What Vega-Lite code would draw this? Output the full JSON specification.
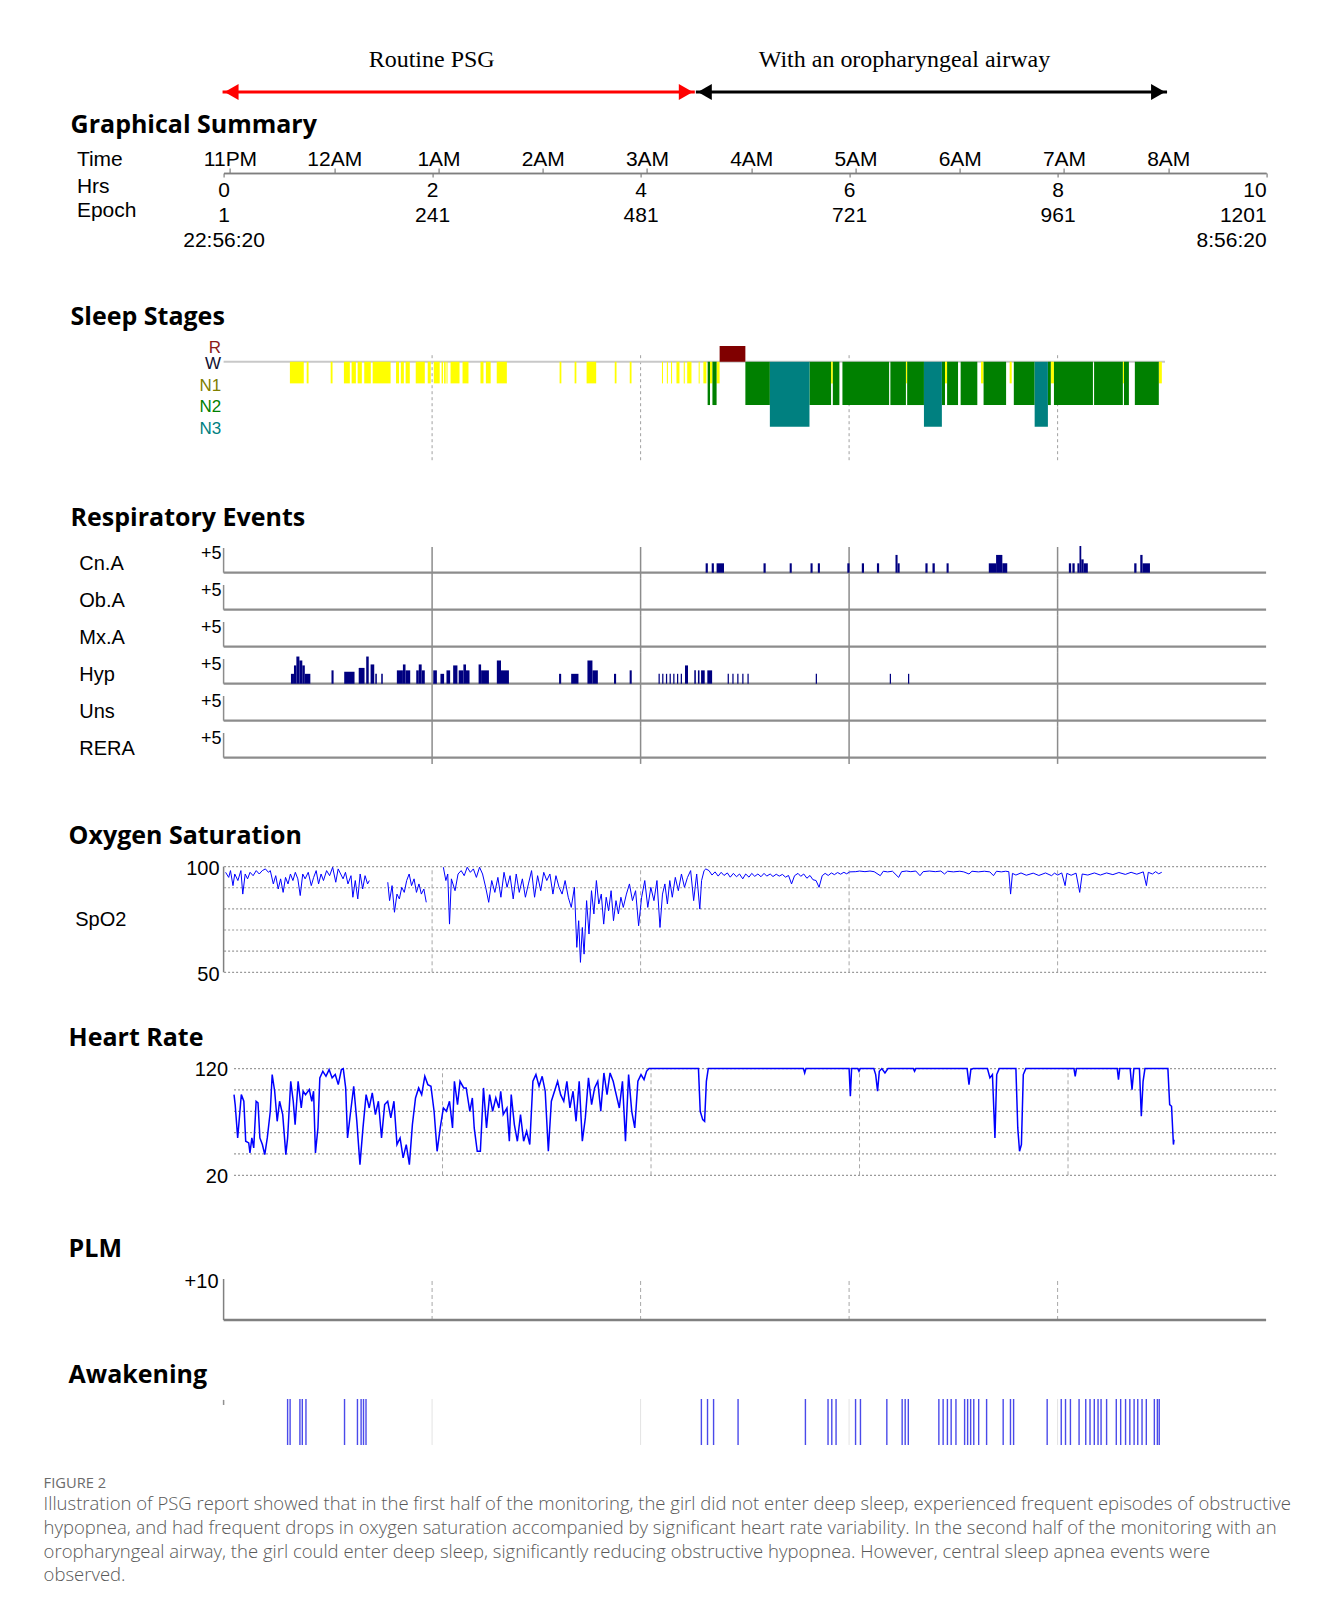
{
"$schema":"https://vega.github.io/schema/vega-lite/v6.json",
"padding":{"left":43.6,"top":36,"right":20,"bottom":20},
"bounds":"flush",
"spacing":0,
"resolve":{"scale":{"color":"independent"}},
"config":{
 "aria":false,
 "view":{"stroke":null},
 "font":"Liberation Sans",
 "axis":{"labelFont":"Liberation Sans","titleFont":"Liberation Sans","labelColor":"#000000","titleColor":"#000000","titleFontWeight":"normal","grid":false},
 "title":{"font":"Open Sans","fontWeight":"bold","fontSize":25,"anchor":"start","frame":"group","offset":0,"baseline":"alphabetic","color":"#000000"}
},
"title":{
 "text":"FIGURE 2",
 "subtitle":["Illustration of PSG report showed that in the first half of the monitoring, the girl did not enter deep sleep, experienced frequent episodes of obstructive","hypopnea, and had frequent drops in oxygen saturation accompanied by significant heart rate variability. In the second half of the monitoring with an","oropharyngeal airway, the girl could enter deep sleep, significantly reducing obstructive hypopnea. However, central sleep apnea events were","observed."],
 "orient":"bottom","anchor":"start","frame":"group","dx":-180,"offset":30,"baseline":"top",
 "font":"Open Sans","fontSize":14.7,"fontWeight":"normal","color":"#6b6b6b",
 "subtitleFont":"Open Sans","subtitleFontSize":18.5,"subtitleFontWeight":300,"subtitleColor":"#595959","subtitleLineHeight":23.7,"subtitlePadding":5
},
"datasets":{
 "phases":[{"label":"Routine PSG","start":-0.01,"end":4.52},{"label":"With an oropharyngeal airway","start":4.53,"end":9.05}],
 "grid":[{"h":2},{"h":4},{"h":6},{"h":8}],
 "one":[{"k":1}],
 "recording":[{"start":0,"end":9.03}],
 "stages":[{"stage":"R","level":-0.72},{"stage":"N1","level":1},{"stage":"N2","level":2},{"stage":"N3","level":3}],
 "sleep":[
  {"stage":"N1","start":0.636,"end":0.769},{"stage":"N1","start":0.797,"end":0.815},{"stage":"N1","start":1.027,"end":1.045},{"stage":"N1","start":1.154,"end":1.211},{"stage":"N1","start":1.228,"end":1.269},{"stage":"N1","start":1.286,"end":1.326},{"stage":"N1","start":1.349,"end":1.412},{"stage":"N1","start":1.43,"end":1.602},{"stage":"N1","start":1.654,"end":1.683},{"stage":"N1","start":1.7,"end":1.729},{"stage":"N1","start":1.746,"end":1.786},{"stage":"N1","start":1.843,"end":1.93},{"stage":"N1","start":1.958,"end":1.987},{"stage":"N1","start":2.016,"end":2.073},{"stage":"N1","start":2.091,"end":2.105},{"stage":"N1","start":2.115,"end":2.13},{"stage":"N1","start":2.138,"end":2.148},{"stage":"N1","start":2.177,"end":2.263},{"stage":"N1","start":2.292,"end":2.349},{"stage":"N1","start":2.464,"end":2.493},{"stage":"N1","start":2.516,"end":2.562},{"stage":"N1","start":2.62,"end":2.717},{"stage":"N1","start":3.223,"end":3.24},{"stage":"N1","start":3.367,"end":3.384},{"stage":"N1","start":3.482,"end":3.574},{"stage":"N1","start":3.752,"end":3.769},{"stage":"N1","start":3.896,"end":3.913},{"stage":"N1","start":4.205,"end":4.215},{"stage":"N1","start":4.252,"end":4.262},{"stage":"N1","start":4.292,"end":4.302},{"stage":"N1","start":4.344,"end":4.373},{"stage":"N1","start":4.414,"end":4.424},{"stage":"N1","start":4.447,"end":4.488},{"stage":"N1","start":4.557,"end":4.567},{"stage":"N1","start":4.602,"end":4.631},{"stage":"N1","start":4.666,"end":4.689},{"stage":"N1","start":4.729,"end":4.758},{"stage":"N1","start":5.827,"end":5.844},{"stage":"N1","start":6.545,"end":6.557},{"stage":"N1","start":6.92,"end":6.94},{"stage":"N1","start":7.265,"end":7.29},{"stage":"N1","start":7.54,"end":7.56},{"stage":"N1","start":7.935,"end":7.965},{"stage":"N1","start":8.626,"end":8.637},{"stage":"N1","start":8.971,"end":9.0},
  {"stage":"N2","start":4.643,"end":4.666},{"stage":"N2","start":4.689,"end":4.729},{"stage":"N2","start":5.005,"end":5.24},{"stage":"N2","start":5.62,"end":5.827},{"stage":"N2","start":5.844,"end":5.907},{"stage":"N2","start":5.936,"end":6.384},{"stage":"N2","start":6.396,"end":6.545},{"stage":"N2","start":6.557,"end":6.718},{"stage":"N2","start":6.89,"end":6.92},{"stage":"N2","start":6.94,"end":7.045},{"stage":"N2","start":7.07,"end":7.23},{"stage":"N2","start":7.29,"end":7.506},{"stage":"N2","start":7.58,"end":7.78},{"stage":"N2","start":7.907,"end":7.935},{"stage":"N2","start":7.965,"end":8.339},{"stage":"N2","start":8.35,"end":8.626},{"stage":"N2","start":8.637,"end":8.684},{"stage":"N2","start":8.741,"end":8.971},
  {"stage":"N3","start":5.24,"end":5.62},{"stage":"N3","start":6.718,"end":6.89},{"stage":"N3","start":7.78,"end":7.907},
  {"stage":"R","start":4.758,"end":5.005}
 ],
 "resp":[
  {"type":"Cn.A","start":4.624,"end":4.645,"n":1.9},{"type":"Cn.A","start":4.682,"end":4.703,"n":1.9},{"type":"Cn.A","start":4.729,"end":4.8,"n":1.9},{"type":"Cn.A","start":5.179,"end":5.2,"n":1.9},{"type":"Cn.A","start":5.43,"end":5.45,"n":1.9},{"type":"Cn.A","start":5.63,"end":5.65,"n":1.9},{"type":"Cn.A","start":5.7,"end":5.72,"n":1.9},{"type":"Cn.A","start":5.983,"end":6.004,"n":1.9},{"type":"Cn.A","start":6.122,"end":6.143,"n":1.9},{"type":"Cn.A","start":6.267,"end":6.288,"n":1.9},{"type":"Cn.A","start":6.445,"end":6.465,"n":3.6},{"type":"Cn.A","start":6.465,"end":6.485,"n":1.9},{"type":"Cn.A","start":6.732,"end":6.753,"n":1.9},{"type":"Cn.A","start":6.8,"end":6.822,"n":1.9},{"type":"Cn.A","start":6.935,"end":6.955,"n":1.9},{"type":"Cn.A","start":7.34,"end":7.41,"n":1.9},{"type":"Cn.A","start":7.41,"end":7.47,"n":3.6},{"type":"Cn.A","start":7.47,"end":7.517,"n":1.9},{"type":"Cn.A","start":8.108,"end":8.13,"n":1.9},{"type":"Cn.A","start":8.142,"end":8.164,"n":1.9},{"type":"Cn.A","start":8.19,"end":8.21,"n":1.9},{"type":"Cn.A","start":8.21,"end":8.227,"n":5.4},{"type":"Cn.A","start":8.227,"end":8.25,"n":2.7},{"type":"Cn.A","start":8.25,"end":8.29,"n":1.9},{"type":"Cn.A","start":8.735,"end":8.757,"n":1.9},{"type":"Cn.A","start":8.793,"end":8.815,"n":3.6},{"type":"Cn.A","start":8.815,"end":8.886,"n":1.9},
  {"type":"Hyp","start":0.646,"end":0.675,"n":2.0},{"type":"Hyp","start":0.675,"end":0.698,"n":3.7},{"type":"Hyp","start":0.698,"end":0.727,"n":5.5},{"type":"Hyp","start":0.727,"end":0.755,"n":4.7},{"type":"Hyp","start":0.755,"end":0.779,"n":3.7},{"type":"Hyp","start":0.779,"end":0.832,"n":2.0},{"type":"Hyp","start":1.035,"end":1.055,"n":2.7},{"type":"Hyp","start":1.157,"end":1.256,"n":2.4},{"type":"Hyp","start":1.296,"end":1.352,"n":3.2},{"type":"Hyp","start":1.368,"end":1.392,"n":5.5},{"type":"Hyp","start":1.41,"end":1.445,"n":3.9},{"type":"Hyp","start":1.455,"end":1.47,"n":2.0},{"type":"Hyp","start":1.512,"end":1.527,"n":2.0},{"type":"Hyp","start":1.662,"end":1.72,"n":2.7},{"type":"Hyp","start":1.72,"end":1.745,"n":3.9},{"type":"Hyp","start":1.745,"end":1.79,"n":2.7},{"type":"Hyp","start":1.848,"end":1.872,"n":2.7},{"type":"Hyp","start":1.872,"end":1.9,"n":3.9},{"type":"Hyp","start":1.9,"end":1.93,"n":2.7},{"type":"Hyp","start":2.011,"end":2.046,"n":2.7},{"type":"Hyp","start":2.08,"end":2.115,"n":2.0},{"type":"Hyp","start":2.138,"end":2.173,"n":2.7},{"type":"Hyp","start":2.202,"end":2.243,"n":3.7},{"type":"Hyp","start":2.255,"end":2.3,"n":2.7},{"type":"Hyp","start":2.3,"end":2.325,"n":3.9},{"type":"Hyp","start":2.325,"end":2.359,"n":2.7},{"type":"Hyp","start":2.446,"end":2.47,"n":3.9},{"type":"Hyp","start":2.47,"end":2.545,"n":2.7},{"type":"Hyp","start":2.621,"end":2.661,"n":4.7},{"type":"Hyp","start":2.661,"end":2.737,"n":2.7},{"type":"Hyp","start":3.218,"end":3.238,"n":2.0},{"type":"Hyp","start":3.334,"end":3.404,"n":2.0},{"type":"Hyp","start":3.49,"end":3.538,"n":4.7},{"type":"Hyp","start":3.538,"end":3.59,"n":2.7},{"type":"Hyp","start":3.745,"end":3.765,"n":2.0},{"type":"Hyp","start":3.895,"end":3.915,"n":2.7},{"type":"Hyp","start":4.172,"end":4.184,"n":2.0},{"type":"Hyp","start":4.207,"end":4.219,"n":2.0},{"type":"Hyp","start":4.243,"end":4.255,"n":2.0},{"type":"Hyp","start":4.278,"end":4.29,"n":2.0},{"type":"Hyp","start":4.313,"end":4.325,"n":2.0},{"type":"Hyp","start":4.349,"end":4.361,"n":2.0},{"type":"Hyp","start":4.385,"end":4.397,"n":2.0},{"type":"Hyp","start":4.426,"end":4.455,"n":3.7},{"type":"Hyp","start":4.515,"end":4.53,"n":2.7},{"type":"Hyp","start":4.55,"end":4.565,"n":2.7},{"type":"Hyp","start":4.58,"end":4.615,"n":2.7},{"type":"Hyp","start":4.64,"end":4.686,"n":2.7},{"type":"Hyp","start":4.835,"end":4.847,"n":2.0},{"type":"Hyp","start":4.88,"end":4.892,"n":2.0},{"type":"Hyp","start":4.927,"end":4.939,"n":2.0},{"type":"Hyp","start":4.975,"end":4.987,"n":2.0},{"type":"Hyp","start":5.025,"end":5.037,"n":2.0},{"type":"Hyp","start":5.68,"end":5.692,"n":2.0},{"type":"Hyp","start":6.39,"end":6.402,"n":2.0},{"type":"Hyp","start":6.565,"end":6.577,"n":2.0}
 ],
 "spo2_levels":[{"v":50},{"v":60},{"v":70},{"v":80},{"v":90},{"v":100}],
 "hr_levels":[{"v":20},{"v":40},{"v":60},{"v":80},{"v":100},{"v":120}],
 "spo2":[
  {"seg":1,"h":0.019,"v":97.3},{"seg":1,"h":0.049,"v":94.9},{"seg":1,"h":0.066,"v":98.1},{"seg":1,"h":0.09,"v":91.0},{"seg":1,"h":0.107,"v":96.5},{"seg":1,"h":0.137,"v":93.4},{"seg":1,"h":0.166,"v":98.1},{"seg":1,"h":0.184,"v":87.0},{"seg":1,"h":0.207,"v":96.5},{"seg":1,"h":0.23,"v":94.2},{"seg":1,"h":0.254,"v":97.3},{"seg":1,"h":0.283,"v":95.7},{"seg":1,"h":0.313,"v":98.1},{"seg":1,"h":0.342,"v":96.5},{"seg":1,"h":0.371,"v":98.1},{"seg":1,"h":0.401,"v":98.9},{"seg":1,"h":0.43,"v":97.3},{"seg":1,"h":0.448,"v":98.1},{"seg":1,"h":0.477,"v":91.8},{"seg":1,"h":0.5,"v":95.7},{"seg":1,"h":0.524,"v":89.4},{"seg":1,"h":0.547,"v":94.2},{"seg":1,"h":0.571,"v":87.8},{"seg":1,"h":0.594,"v":94.9},{"seg":1,"h":0.618,"v":91.8},{"seg":1,"h":0.641,"v":96.5},{"seg":1,"h":0.665,"v":93.4},{"seg":1,"h":0.688,"v":97.3},{"seg":1,"h":0.712,"v":94.2},{"seg":1,"h":0.735,"v":86.3},{"seg":1,"h":0.759,"v":96.5},{"seg":1,"h":0.782,"v":94.2},{"seg":1,"h":0.812,"v":97.3},{"seg":1,"h":0.841,"v":91.0},{"seg":1,"h":0.864,"v":94.9},{"seg":1,"h":0.888,"v":98.1},{"seg":1,"h":0.911,"v":91.8},{"seg":1,"h":0.935,"v":96.5},{"seg":1,"h":0.958,"v":93.4},{"seg":1,"h":0.988,"v":98.1},{"seg":1,"h":1.017,"v":95.7},{"seg":1,"h":1.046,"v":99.7},{"seg":1,"h":1.076,"v":92.6},{"seg":1,"h":1.099,"v":98.9},{"seg":1,"h":1.123,"v":96.5},{"seg":1,"h":1.146,"v":94.2},{"seg":1,"h":1.169,"v":97.3},{"seg":1,"h":1.193,"v":91.8},{"seg":1,"h":1.222,"v":95.7},{"seg":1,"h":1.24,"v":85.5},{"seg":1,"h":1.263,"v":93.4},{"seg":1,"h":1.287,"v":84.7},{"seg":1,"h":1.31,"v":96.5},{"seg":1,"h":1.334,"v":89.4},{"seg":1,"h":1.357,"v":95.7},{"seg":1,"h":1.381,"v":91.8},{"seg":1,"h":1.398,"v":93.4},
  {"seg":2,"h":1.575,"v":92.6},{"seg":2,"h":1.592,"v":83.9},{"seg":2,"h":1.616,"v":91.0},{"seg":2,"h":1.639,"v":78.4},{"seg":2,"h":1.663,"v":87.0},{"seg":2,"h":1.686,"v":84.7},{"seg":2,"h":1.709,"v":90.2},{"seg":2,"h":1.733,"v":87.8},{"seg":2,"h":1.756,"v":93.4},{"seg":2,"h":1.78,"v":96.5},{"seg":2,"h":1.803,"v":91.0},{"seg":2,"h":1.827,"v":94.2},{"seg":2,"h":1.85,"v":87.8},{"seg":2,"h":1.874,"v":91.8},{"seg":2,"h":1.897,"v":87.0},{"seg":2,"h":1.921,"v":89.4},{"seg":2,"h":1.944,"v":83.1},
  {"seg":3,"h":2.108,"v":99.7},{"seg":3,"h":2.132,"v":93.4},{"seg":3,"h":2.15,"v":96.5},{"seg":3,"h":2.167,"v":72.8},{"seg":3,"h":2.185,"v":94.2},{"seg":3,"h":2.22,"v":88.6},{"seg":3,"h":2.249,"v":96.5},{"seg":3,"h":2.279,"v":98.1},{"seg":3,"h":2.308,"v":95.7},{"seg":3,"h":2.337,"v":99.7},{"seg":3,"h":2.367,"v":97.3},{"seg":3,"h":2.396,"v":98.9},{"seg":3,"h":2.425,"v":94.9},{"seg":3,"h":2.455,"v":99.7},{"seg":3,"h":2.484,"v":96.5},{"seg":3,"h":2.514,"v":90.2},{"seg":3,"h":2.543,"v":83.1},{"seg":3,"h":2.572,"v":93.4},{"seg":3,"h":2.602,"v":87.8},{"seg":3,"h":2.631,"v":94.9},{"seg":3,"h":2.66,"v":85.5},{"seg":3,"h":2.69,"v":97.3},{"seg":3,"h":2.719,"v":90.2},{"seg":3,"h":2.748,"v":95.7},{"seg":3,"h":2.778,"v":84.7},{"seg":3,"h":2.807,"v":96.5},{"seg":3,"h":2.836,"v":87.8},{"seg":3,"h":2.866,"v":94.2},{"seg":3,"h":2.895,"v":85.5},{"seg":3,"h":2.924,"v":91.8},{"seg":3,"h":2.954,"v":98.1},{"seg":3,"h":2.983,"v":85.5},{"seg":3,"h":3.012,"v":95.7},{"seg":3,"h":3.042,"v":88.6},{"seg":3,"h":3.071,"v":97.3},{"seg":3,"h":3.1,"v":93.4},{"seg":3,"h":3.13,"v":96.5},{"seg":3,"h":3.159,"v":87.0},{"seg":3,"h":3.188,"v":95.7},{"seg":3,"h":3.218,"v":90.2},{"seg":3,"h":3.247,"v":87.0},{"seg":3,"h":3.276,"v":93.4},{"seg":3,"h":3.306,"v":85.5},{"seg":3,"h":3.335,"v":80.7},{"seg":3,"h":3.365,"v":90.2},{"seg":3,"h":3.388,"v":61.8},{"seg":3,"h":3.406,"v":74.4},{"seg":3,"h":3.423,"v":54.7},{"seg":3,"h":3.441,"v":71.2},{"seg":3,"h":3.458,"v":58.6},{"seg":3,"h":3.482,"v":83.9},{"seg":3,"h":3.505,"v":68.1},{"seg":3,"h":3.529,"v":88.6},{"seg":3,"h":3.552,"v":77.6},{"seg":3,"h":3.576,"v":93.4},{"seg":3,"h":3.599,"v":82.3},{"seg":3,"h":3.623,"v":87.0},{"seg":3,"h":3.646,"v":72.8},{"seg":3,"h":3.67,"v":85.5},{"seg":3,"h":3.693,"v":79.1},{"seg":3,"h":3.717,"v":88.6},{"seg":3,"h":3.74,"v":74.4},{"seg":3,"h":3.764,"v":83.9},{"seg":3,"h":3.787,"v":77.6},{"seg":3,"h":3.811,"v":85.5},{"seg":3,"h":3.834,"v":80.7},{"seg":3,"h":3.864,"v":87.0},{"seg":3,"h":3.893,"v":91.8},{"seg":3,"h":3.922,"v":83.9},{"seg":3,"h":3.952,"v":88.6},{"seg":3,"h":3.981,"v":72.0},{"seg":3,"h":4.01,"v":85.5},{"seg":3,"h":4.04,"v":93.4},{"seg":3,"h":4.069,"v":80.7},{"seg":3,"h":4.098,"v":90.2},{"seg":3,"h":4.128,"v":83.9},{"seg":3,"h":4.157,"v":93.4},{"seg":3,"h":4.186,"v":71.2},{"seg":3,"h":4.21,"v":87.0},{"seg":3,"h":4.233,"v":91.8},{"seg":3,"h":4.257,"v":82.3},{"seg":3,"h":4.28,"v":93.4},{"seg":3,"h":4.304,"v":85.5},{"seg":3,"h":4.333,"v":94.9},{"seg":3,"h":4.362,"v":88.6},{"seg":3,"h":4.392,"v":96.5},{"seg":3,"h":4.421,"v":90.2},{"seg":3,"h":4.45,"v":94.9},{"seg":3,"h":4.48,"v":98.1},{"seg":3,"h":4.509,"v":83.9},{"seg":3,"h":4.538,"v":96.5},{"seg":3,"h":4.568,"v":79.9},{"seg":3,"h":4.585,"v":93.4},{"seg":3,"h":4.609,"v":98.1},{"seg":3,"h":4.626,"v":98.9},
  {"seg":3,"h":4.656,"v":98.1},{"seg":3,"h":4.685,"v":96.0},{"seg":3,"h":4.714,"v":97.5},{"seg":3,"h":4.744,"v":95.5},{"seg":3,"h":4.773,"v":97.3},{"seg":3,"h":4.8,"v":95.8},{"seg":3,"h":4.832,"v":97.0},{"seg":3,"h":4.86,"v":95.0},{"seg":3,"h":4.89,"v":96.8},{"seg":3,"h":4.92,"v":95.2},{"seg":3,"h":4.949,"v":96.5},{"seg":3,"h":4.98,"v":94.2},{"seg":3,"h":5.008,"v":96.5},{"seg":3,"h":5.04,"v":95.0},{"seg":3,"h":5.066,"v":96.8},{"seg":3,"h":5.095,"v":95.4},{"seg":3,"h":5.125,"v":96.5},{"seg":3,"h":5.155,"v":95.2},{"seg":3,"h":5.184,"v":96.8},{"seg":3,"h":5.21,"v":95.5},{"seg":3,"h":5.243,"v":96.5},{"seg":3,"h":5.27,"v":95.3},{"seg":3,"h":5.301,"v":96.4},{"seg":3,"h":5.33,"v":95.5},{"seg":3,"h":5.36,"v":96.3},{"seg":3,"h":5.39,"v":95.0},{"seg":3,"h":5.419,"v":95.8},{"seg":3,"h":5.448,"v":91.8},{"seg":3,"h":5.477,"v":95.7},{"seg":3,"h":5.51,"v":96.8},{"seg":3,"h":5.536,"v":95.4},{"seg":3,"h":5.565,"v":96.5},{"seg":3,"h":5.595,"v":94.5},{"seg":3,"h":5.625,"v":95.8},{"seg":3,"h":5.653,"v":93.8},{"seg":3,"h":5.683,"v":93.4},{"seg":3,"h":5.712,"v":90.2},{"seg":3,"h":5.742,"v":95.7},{"seg":3,"h":5.77,"v":96.8},{"seg":3,"h":5.8,"v":95.8},{"seg":3,"h":5.83,"v":97.0},{"seg":3,"h":5.859,"v":96.2},{"seg":3,"h":5.89,"v":97.2},{"seg":3,"h":5.918,"v":96.4},{"seg":3,"h":5.95,"v":97.3},{"seg":3,"h":5.976,"v":96.6},{"seg":3,"h":6.006,"v":97.5},{"seg":3,"h":6.064,"v":97.6},{"seg":3,"h":6.1,"v":97.9},{"seg":3,"h":6.152,"v":97.6},{"seg":3,"h":6.2,"v":97.9},{"seg":3,"h":6.24,"v":97.6},{"seg":3,"h":6.299,"v":95.7},{"seg":3,"h":6.328,"v":97.8},{"seg":3,"h":6.37,"v":97.5},{"seg":3,"h":6.416,"v":97.8},{"seg":3,"h":6.475,"v":94.9},{"seg":3,"h":6.504,"v":97.6},{"seg":3,"h":6.55,"v":97.9},{"seg":3,"h":6.592,"v":97.6},{"seg":3,"h":6.64,"v":97.9},{"seg":3,"h":6.68,"v":95.7},{"seg":3,"h":6.71,"v":97.6},{"seg":3,"h":6.77,"v":97.9},{"seg":3,"h":6.827,"v":97.6},{"seg":3,"h":6.88,"v":97.9},{"seg":3,"h":6.915,"v":96.5},{"seg":3,"h":6.945,"v":97.8},{"seg":3,"h":7.0,"v":97.5},{"seg":3,"h":7.062,"v":97.8},{"seg":3,"h":7.1,"v":97.5},{"seg":3,"h":7.15,"v":96.5},{"seg":3,"h":7.179,"v":97.8},{"seg":3,"h":7.24,"v":97.5},{"seg":3,"h":7.297,"v":97.8},{"seg":3,"h":7.35,"v":97.5},{"seg":3,"h":7.385,"v":95.7},{"seg":3,"h":7.414,"v":97.8},{"seg":3,"h":7.46,"v":97.5},{"seg":3,"h":7.502,"v":97.8},{"seg":3,"h":7.532,"v":97.6},{"seg":3,"h":7.549,"v":87.0},{"seg":3,"h":7.567,"v":96.8},{"seg":3,"h":7.6,"v":96.0},{"seg":3,"h":7.649,"v":97.0},{"seg":3,"h":7.7,"v":95.9},{"seg":3,"h":7.766,"v":96.9},{"seg":3,"h":7.82,"v":95.8},{"seg":3,"h":7.884,"v":97.0},{"seg":3,"h":7.942,"v":95.7},{"seg":3,"h":7.97,"v":96.9},{"seg":3,"h":8.001,"v":96.0},{"seg":3,"h":8.04,"v":97.0},{"seg":3,"h":8.072,"v":91.0},{"seg":3,"h":8.089,"v":96.8},{"seg":3,"h":8.13,"v":95.9},{"seg":3,"h":8.177,"v":96.9},{"seg":3,"h":8.212,"v":87.8},{"seg":3,"h":8.236,"v":96.5},{"seg":3,"h":8.29,"v":96.0},{"seg":3,"h":8.353,"v":97.0},{"seg":3,"h":8.41,"v":96.0},{"seg":3,"h":8.47,"v":97.0},{"seg":3,"h":8.53,"v":96.2},{"seg":3,"h":8.588,"v":97.2},{"seg":3,"h":8.65,"v":96.3},{"seg":3,"h":8.705,"v":97.3},{"seg":3,"h":8.76,"v":96.4},{"seg":3,"h":8.822,"v":97.5},{"seg":3,"h":8.852,"v":91.0},{"seg":3,"h":8.87,"v":97.3},{"seg":3,"h":8.91,"v":96.5},{"seg":3,"h":8.94,"v":97.6},{"seg":3,"h":8.97,"v":96.6},{"seg":3,"h":8.999,"v":97.3}
 ],
 "hr":[
  {"h":0.0,"v":95.6},{"h":0.011,"v":86.3},{"h":0.035,"v":55.0},{"h":0.07,"v":95.6},{"h":0.094,"v":89.4},{"h":0.112,"v":51.9},{"h":0.141,"v":50.3},{"h":0.153,"v":40.9},{"h":0.171,"v":55.0},{"h":0.189,"v":45.6},{"h":0.212,"v":89.4},{"h":0.23,"v":87.8},{"h":0.248,"v":55.0},{"h":0.272,"v":48.8},{"h":0.295,"v":39.4},{"h":0.319,"v":55.0},{"h":0.348,"v":80.0},{"h":0.366,"v":114.4},{"h":0.39,"v":98.8},{"h":0.414,"v":70.6},{"h":0.437,"v":89.4},{"h":0.467,"v":76.9},{"h":0.497,"v":39.4},{"h":0.514,"v":55.0},{"h":0.544,"v":108.1},{"h":0.568,"v":89.4},{"h":0.586,"v":67.5},{"h":0.615,"v":108.1},{"h":0.645,"v":83.1},{"h":0.663,"v":98.8},{"h":0.686,"v":95.6},{"h":0.722,"v":100.3},{"h":0.746,"v":89.4},{"h":0.763,"v":98.8},{"h":0.781,"v":40.9},{"h":0.805,"v":64.4},{"h":0.823,"v":111.3},{"h":0.852,"v":117.5},{"h":0.882,"v":112.8},{"h":0.912,"v":119.1},{"h":0.941,"v":111.3},{"h":0.971,"v":114.4},{"h":1.0,"v":105.0},{"h":1.03,"v":119.1},{"h":1.048,"v":120.0},{"h":1.071,"v":101.9},{"h":1.089,"v":55.0},{"h":1.119,"v":80.0},{"h":1.148,"v":103.4},{"h":1.178,"v":70.6},{"h":1.208,"v":30.0},{"h":1.237,"v":64.4},{"h":1.267,"v":95.6},{"h":1.297,"v":83.1},{"h":1.326,"v":97.2},{"h":1.356,"v":76.9},{"h":1.385,"v":89.4},{"h":1.415,"v":55.0},{"h":1.445,"v":86.3},{"h":1.474,"v":89.4},{"h":1.504,"v":73.8},{"h":1.534,"v":89.4},{"h":1.563,"v":48.8},{"h":1.593,"v":55.0},{"h":1.622,"v":36.3},{"h":1.652,"v":48.8},{"h":1.682,"v":30.0},{"h":1.711,"v":67.5},{"h":1.741,"v":92.5},{"h":1.771,"v":101.9},{"h":1.8,"v":95.6},{"h":1.83,"v":112.8},{"h":1.859,"v":105.0},{"h":1.889,"v":103.4},{"h":1.919,"v":80.0},{"h":1.948,"v":42.5},{"h":1.978,"v":64.4},{"h":2.008,"v":83.1},{"h":2.037,"v":80.0},{"h":2.067,"v":89.4},{"h":2.096,"v":64.4},{"h":2.114,"v":108.1},{"h":2.144,"v":86.3},{"h":2.168,"v":108.1},{"h":2.203,"v":101.9},{"h":2.227,"v":101.9},{"h":2.262,"v":80.0},{"h":2.286,"v":92.5},{"h":2.304,"v":64.4},{"h":2.333,"v":42.5},{"h":2.363,"v":42.5},{"h":2.393,"v":101.9},{"h":2.422,"v":64.4},{"h":2.452,"v":95.6},{"h":2.481,"v":80.0},{"h":2.511,"v":92.5},{"h":2.541,"v":83.1},{"h":2.558,"v":98.8},{"h":2.582,"v":76.9},{"h":2.618,"v":83.1},{"h":2.641,"v":51.9},{"h":2.659,"v":95.6},{"h":2.689,"v":67.5},{"h":2.718,"v":51.9},{"h":2.748,"v":76.9},{"h":2.778,"v":51.9},{"h":2.807,"v":61.3},{"h":2.837,"v":48.8},{"h":2.867,"v":108.1},{"h":2.896,"v":114.4},{"h":2.926,"v":103.4},{"h":2.956,"v":112.8},{"h":2.985,"v":98.8},{"h":3.015,"v":42.5},{"h":3.044,"v":89.4},{"h":3.074,"v":98.8},{"h":3.104,"v":108.1},{"h":3.133,"v":95.6},{"h":3.163,"v":89.4},{"h":3.193,"v":108.1},{"h":3.222,"v":83.1},{"h":3.252,"v":98.8},{"h":3.281,"v":70.6},{"h":3.311,"v":108.1},{"h":3.341,"v":51.9},{"h":3.37,"v":73.8},{"h":3.4,"v":111.3},{"h":3.43,"v":86.3},{"h":3.459,"v":101.9},{"h":3.489,"v":108.1},{"h":3.518,"v":80.0},{"h":3.548,"v":115.9},{"h":3.578,"v":95.6},{"h":3.607,"v":115.9},{"h":3.637,"v":108.1},{"h":3.666,"v":95.6},{"h":3.696,"v":83.1},{"h":3.726,"v":108.1},{"h":3.755,"v":51.9},{"h":3.785,"v":114.4},{"h":3.815,"v":80.0},{"h":3.844,"v":64.4},{"h":3.874,"v":108.1},{"h":3.904,"v":114.4},{"h":3.933,"v":109.7},{"h":3.957,"v":117.5},{"h":3.981,"v":120.0},
  {"h":4.455,"v":120.0},{"h":4.472,"v":80.0},{"h":4.496,"v":72.2},{"h":4.514,"v":70.6},{"h":4.531,"v":108.1},{"h":4.549,"v":120.0},{"h":5.462,"v":120.0},{"h":5.474,"v":115.9},{"h":5.486,"v":120.0},{"h":5.9,"v":120.0},{"h":5.912,"v":94.1},{"h":5.924,"v":120.0},{"h":5.983,"v":120.0},{"h":5.995,"v":117.5},{"h":6.007,"v":120.0},{"h":6.137,"v":120.0},{"h":6.155,"v":114.4},{"h":6.173,"v":98.8},{"h":6.19,"v":117.5},{"h":6.214,"v":120.0},{"h":6.244,"v":115.9},{"h":6.273,"v":120.0},{"h":6.516,"v":120.0},{"h":6.528,"v":117.5},{"h":6.54,"v":120.0},{"h":7.032,"v":120.0},{"h":7.05,"v":105.0},{"h":7.068,"v":119.1},{"h":7.09,"v":120.0},{"h":7.227,"v":120.0},{"h":7.251,"v":111.3},{"h":7.275,"v":114.4},{"h":7.299,"v":55.0},{"h":7.316,"v":114.4},{"h":7.34,"v":120.0},{"h":7.5,"v":120.0},{"h":7.518,"v":64.4},{"h":7.535,"v":42.5},{"h":7.553,"v":48.8},{"h":7.571,"v":114.4},{"h":7.595,"v":120.0},{"h":8.057,"v":120.0},{"h":8.069,"v":112.8},{"h":8.081,"v":120.0},{"h":8.472,"v":120.0},{"h":8.484,"v":109.7},{"h":8.496,"v":120.0},{"h":8.596,"v":120.0},{"h":8.614,"v":100.3},{"h":8.632,"v":120.0},{"h":8.685,"v":120.0},{"h":8.703,"v":75.3},{"h":8.72,"v":108.1},{"h":8.738,"v":120.0},{"h":8.958,"v":120.0},{"h":8.975,"v":86.3},{"h":8.993,"v":84.7},{"h":9.011,"v":48.8},{"h":9.017,"v":53.5}
 ],
 "arousal":[{"h":0.614},{"h":0.638},{"h":0.732},{"h":0.755},{"h":0.79},{"h":1.16},{"h":1.284},{"h":1.319},{"h":1.342},{"h":1.366},{"h":4.583},{"h":4.642},{"h":4.7},{"h":4.935},{"h":5.581},{"h":5.798},{"h":5.834},{"h":5.875},{"h":6.062},{"h":6.109},{"h":6.362},{"h":6.509},{"h":6.538},{"h":6.568},{"h":6.861},{"h":6.902},{"h":6.943},{"h":6.979},{"h":7.025},{"h":7.108},{"h":7.137},{"h":7.166},{"h":7.196},{"h":7.243},{"h":7.319},{"h":7.478},{"h":7.548},{"h":7.578},{"h":7.9},{"h":8.035},{"h":8.076},{"h":8.123},{"h":8.206},{"h":8.27},{"h":8.311},{"h":8.352},{"h":8.388},{"h":8.417},{"h":8.47},{"h":8.563},{"h":8.605},{"h":8.652},{"h":8.693},{"h":8.734},{"h":8.769},{"h":8.81},{"h":8.851},{"h":8.928},{"h":8.957},{"h":8.975}]
},
"vconcat":[
 {
  "width":1042.5,"height":48,
  "data":{"name":"phases"},
  "transform":[{"fold":["start","end"],"as":["edge","hr"]}],
  "mark":{"type":"text","font":"Liberation Serif","fontSize":24,"baseline":"middle","align":"center","dx":-27,"color":"#000000"},
  "encoding":{
   "x":{"aggregate":"mean","field":"hr","type":"quantitative","scale":{"domain":[0,10],"nice":false,"zero":false},"axis":null},
   "text":{"field":"label","type":"nominal"}
  }
 },
 {
  "width":1042.5,"height":16,
  "data":{"name":"phases"},
  "layer":[
   {"mark":{"type":"rule","strokeWidth":3},"encoding":{"x":{"field":"start","type":"quantitative","scale":{"domain":[0,10],"nice":false,"zero":false},"axis":null},"x2":{"field":"end"},"color":{"field":"label","type":"nominal","scale":{"domain":["Routine PSG","With an oropharyngeal airway"],"range":["#ff0000","#000000"]},"legend":null}}},
   {"mark":{"type":"point","shape":"triangle-left","filled":true,"size":260,"opacity":1,"xOffset":9},"encoding":{"x":{"field":"start","type":"quantitative","axis":null},"color":{"field":"label","type":"nominal","legend":null}}},
   {"mark":{"type":"point","shape":"triangle-right","filled":true,"size":260,"opacity":1,"xOffset":-9},"encoding":{"x":{"field":"end","type":"quantitative","axis":null},"color":{"field":"label","type":"nominal","legend":null}}}
  ]
 },
 {
  "width":1042.5,"height":73,
  "title":{"text":"Graphical Summary","dx":-153,"dy":42.2},
  "data":{"name":"phases"},
  "mark":{"type":"point","opacity":0},
  "encoding":{"x":{"field":"start","type":"quantitative","scale":{"domain":[0,10],"nice":false,"zero":false},
     "axis":{"orient":"bottom","values":[0,2,4,6,8,10],"labelExpr":"datum.value == 0 ? ['0','1','22:56:20'] : datum.value == 10 ? ['10','1201','8:56:20'] : [format(datum.value,'d'), format(datum.value*120+1,'d')]","labelAlign":{"condition":{"test":"datum.value == 10","value":"right"},"value":"center"},"labelFontSize":21,"labelLineHeight":25,"labelBaseline":"alphabetic","labelPadding":19.7,"labelOverlap":false,"labelFlush":false,"labelBound":false,"tickSize":4,"tickColor":"#7f7f7f","tickWidth":1.2,"domain":true,"domainColor":"#7f7f7f","domainWidth":1.5,"title":["Hrs","Epoch"],"titleFontSize":21,"titleLineHeight":24.5,"titleAngle":0,"titleAlign":"left","titleBaseline":"alphabetic","titleX":-147.2,"titleY":19.5}}}
 },
 {
  "width":1042.5,"height":369,
  "title":{"text":"Sleep Stages","dx":-153,"dy":185.7},
  "layer":[
   {"data":{"name":"grid"},"mark":{"type":"rule","color":"#a0a0a0","strokeDash":[3,3],"strokeWidth":1},"encoding":{
     "x":{"field":"h","type":"quantitative","scale":{"domain":[0,10],"nice":false,"zero":false},
       "axis":{"orient":"top","values":[0.0611,1.0611,2.0611,3.0611,4.0611,5.0611,6.0611,7.0611,8.0611,9.0611],"labelExpr":"['11PM','12AM','1AM','2AM','3AM','4AM','5AM','6AM','7AM','8AM'][round(datum.value)]","labelFontSize":21,"labelBaseline":"alphabetic","labelAlign":"center","labelPadding":3,"labelOverlap":false,"labelFlush":false,"labelBound":false,"tickSize":5,"tickColor":"#7f7f7f","tickWidth":1.2,"domain":true,"domainColor":"#7f7f7f","domainWidth":1.5,"title":"Time","titleFontSize":21,"titleAngle":0,"titleAlign":"left","titleBaseline":"alphabetic","titleX":-147.2,"titleY":-8}},
     "y":{"datum":-0.3,"type":"quantitative","scale":{"domain":[-8.708,8.32],"reverse":true,"nice":false,"zero":false},
       "axis":{"values":[-0.67,0.09,1.08,2.07,3.06],"labelExpr":"datum.value < -0.5 ? 'R' : datum.value < 0.5 ? 'W' : datum.value < 1.5 ? 'N1' : datum.value < 2.5 ? 'N2' : 'N3'","labelColor":{"condition":[{"test":"datum.value < -0.5","value":"#8b1a1a"},{"test":"datum.value < 0.5","value":"#101030"},{"test":"datum.value < 1.5","value":"#808000"},{"test":"datum.value < 2.5","value":"#008000"}],"value":"#008080"},"labelFontSize":17,"labelPadding":3,"labelBaseline":"middle","ticks":false,"domain":false,"title":null,"labelOverlap":false,"labelBound":false,"labelFlush":false}},
     "y2":{"datum":4.63}}},
   {"data":{"name":"recording"},"mark":{"type":"rule","color":"#c8c8c8","strokeWidth":2},"encoding":{"x":{"field":"start","type":"quantitative"},"x2":{"field":"end"},"y":{"datum":0,"type":"quantitative"}}},
   {"data":{"name":"sleep"},"transform":[{"lookup":"stage","from":{"data":{"name":"stages"},"key":"stage","fields":["level"]}}],"mark":{"type":"rect"},"encoding":{
     "x":{"field":"start","type":"quantitative"},"x2":{"field":"end"},
     "y":{"field":"level","type":"quantitative"},"y2":{"datum":0},
     "color":{"field":"stage","type":"nominal","scale":{"domain":["R","N1","N2","N3"],"range":["#800000","#ffff00","#008000","#008080"]},"legend":null}}}
  ]
 },
 {"width":1042.5,"height":36.9,
  "title":{"text":"Respiratory Events","dx":-153,"dy":-6.8},
  "layer":[
  {"data":{"name":"grid"},"mark":{"type":"rule","color":"#8c8c8c","strokeWidth":1.5},"encoding":{"x":{"field":"h","type":"quantitative","scale":{"domain":[0,10],"nice":false,"zero":false},"axis":null},"y":{"datum":5.2,"type":"quantitative"},"y2":{"datum":-1.255}}},
  {"data":{"name":"one"},"mark":{"type":"rule","color":"#8c8c8c","strokeWidth":2.2},"encoding":{"y":{"datum":0,"type":"quantitative","scale":{"domain":[-1.255,6.215],"nice":false,"zero":false},"axis":{"values":[5],"labelExpr":"'+5'","labelFontSize":18,"labelPadding":2.5,"labelBaseline":"middle","labelOffset":5,"ticks":false,"domain":false,"labelBound":false,"labelFlush":false,"labelOverlap":false,"title":"Cn.A","titleFontSize":20,"titleAngle":0,"titleAlign":"left","titleBaseline":"middle","titleX":-144.8,"titleY":21.5}}}},
  {"data":{"name":"one"},"mark":{"type":"rule","color":"#8c8c8c","strokeWidth":1.5},"encoding":{"x":{"datum":0,"type":"quantitative","axis":null},"y":{"datum":0,"type":"quantitative"},"y2":{"datum":5}}},
  {"data":{"name":"resp"},"transform":[{"filter":"datum.type == 'Cn.A'"}],"mark":{"type":"rect","color":"#000080"},"encoding":{"x":{"field":"start","type":"quantitative","axis":null},"x2":{"field":"end"},"y":{"field":"n","type":"quantitative"},"y2":{"datum":0}}}
 ]},
 {"width":1042.5,"height":36.9,"layer":[
  {"data":{"name":"grid"},"mark":{"type":"rule","color":"#8c8c8c","strokeWidth":1.5},"encoding":{"x":{"field":"h","type":"quantitative","scale":{"domain":[0,10],"nice":false,"zero":false},"axis":null}}},
  {"data":{"name":"one"},"mark":{"type":"rule","color":"#8c8c8c","strokeWidth":2.2},"encoding":{"y":{"datum":0,"type":"quantitative","scale":{"domain":[-1.255,6.215],"nice":false,"zero":false},"axis":{"values":[5],"labelExpr":"'+5'","labelFontSize":18,"labelPadding":2.5,"labelBaseline":"middle","labelOffset":5,"ticks":false,"domain":false,"labelBound":false,"labelFlush":false,"labelOverlap":false,"title":"Ob.A","titleFontSize":20,"titleAngle":0,"titleAlign":"left","titleBaseline":"middle","titleX":-144.8,"titleY":21.5}}}},
  {"data":{"name":"one"},"mark":{"type":"rule","color":"#8c8c8c","strokeWidth":1.5},"encoding":{"x":{"datum":0,"type":"quantitative","axis":null},"y":{"datum":0,"type":"quantitative"},"y2":{"datum":5}}}
 ]},
 {"width":1042.5,"height":36.9,"layer":[
  {"data":{"name":"grid"},"mark":{"type":"rule","color":"#8c8c8c","strokeWidth":1.5},"encoding":{"x":{"field":"h","type":"quantitative","scale":{"domain":[0,10],"nice":false,"zero":false},"axis":null}}},
  {"data":{"name":"one"},"mark":{"type":"rule","color":"#8c8c8c","strokeWidth":2.2},"encoding":{"y":{"datum":0,"type":"quantitative","scale":{"domain":[-1.255,6.215],"nice":false,"zero":false},"axis":{"values":[5],"labelExpr":"'+5'","labelFontSize":18,"labelPadding":2.5,"labelBaseline":"middle","labelOffset":5,"ticks":false,"domain":false,"labelBound":false,"labelFlush":false,"labelOverlap":false,"title":"Mx.A","titleFontSize":20,"titleAngle":0,"titleAlign":"left","titleBaseline":"middle","titleX":-144.8,"titleY":21.5}}}},
  {"data":{"name":"one"},"mark":{"type":"rule","color":"#8c8c8c","strokeWidth":1.5},"encoding":{"x":{"datum":0,"type":"quantitative","axis":null},"y":{"datum":0,"type":"quantitative"},"y2":{"datum":5}}}
 ]},
 {"width":1042.5,"height":36.9,"layer":[
  {"data":{"name":"grid"},"mark":{"type":"rule","color":"#8c8c8c","strokeWidth":1.5},"encoding":{"x":{"field":"h","type":"quantitative","scale":{"domain":[0,10],"nice":false,"zero":false},"axis":null}}},
  {"data":{"name":"one"},"mark":{"type":"rule","color":"#8c8c8c","strokeWidth":2.2},"encoding":{"y":{"datum":0,"type":"quantitative","scale":{"domain":[-1.255,6.215],"nice":false,"zero":false},"axis":{"values":[5],"labelExpr":"'+5'","labelFontSize":18,"labelPadding":2.5,"labelBaseline":"middle","labelOffset":5,"ticks":false,"domain":false,"labelBound":false,"labelFlush":false,"labelOverlap":false,"title":"Hyp","titleFontSize":20,"titleAngle":0,"titleAlign":"left","titleBaseline":"middle","titleX":-144.8,"titleY":21.5}}}},
  {"data":{"name":"one"},"mark":{"type":"rule","color":"#8c8c8c","strokeWidth":1.5},"encoding":{"x":{"datum":0,"type":"quantitative","axis":null},"y":{"datum":0,"type":"quantitative"},"y2":{"datum":5}}},
  {"data":{"name":"resp"},"transform":[{"filter":"datum.type == 'Hyp'"}],"mark":{"type":"rect","color":"#000080"},"encoding":{"x":{"field":"start","type":"quantitative","axis":null},"x2":{"field":"end"},"y":{"field":"n","type":"quantitative"},"y2":{"datum":0}}}
 ]},
 {"width":1042.5,"height":36.9,"layer":[
  {"data":{"name":"grid"},"mark":{"type":"rule","color":"#8c8c8c","strokeWidth":1.5},"encoding":{"x":{"field":"h","type":"quantitative","scale":{"domain":[0,10],"nice":false,"zero":false},"axis":null}}},
  {"data":{"name":"one"},"mark":{"type":"rule","color":"#8c8c8c","strokeWidth":2.2},"encoding":{"y":{"datum":0,"type":"quantitative","scale":{"domain":[-1.255,6.215],"nice":false,"zero":false},"axis":{"values":[5],"labelExpr":"'+5'","labelFontSize":18,"labelPadding":2.5,"labelBaseline":"middle","labelOffset":5,"ticks":false,"domain":false,"labelBound":false,"labelFlush":false,"labelOverlap":false,"title":"Uns","titleFontSize":20,"titleAngle":0,"titleAlign":"left","titleBaseline":"middle","titleX":-144.8,"titleY":21.5}}}},
  {"data":{"name":"one"},"mark":{"type":"rule","color":"#8c8c8c","strokeWidth":1.5},"encoding":{"x":{"datum":0,"type":"quantitative","axis":null},"y":{"datum":0,"type":"quantitative"},"y2":{"datum":5}}}
 ]},
 {"width":1042.5,"height":36.9,"layer":[
  {"data":{"name":"grid"},"mark":{"type":"rule","color":"#8c8c8c","strokeWidth":1.5},"encoding":{"x":{"field":"h","type":"quantitative","scale":{"domain":[0,10],"nice":false,"zero":false},"axis":null}}},
  {"data":{"name":"one"},"mark":{"type":"rule","color":"#8c8c8c","strokeWidth":2.2},"encoding":{"y":{"datum":0,"type":"quantitative","scale":{"domain":[-1.255,6.215],"nice":false,"zero":false},"axis":{"values":[5],"labelExpr":"'+5'","labelFontSize":18,"labelPadding":2.5,"labelBaseline":"middle","labelOffset":5,"ticks":false,"domain":false,"labelBound":false,"labelFlush":false,"labelOverlap":false,"title":"RERA","titleFontSize":20,"titleAngle":0,"titleAlign":"left","titleBaseline":"middle","titleX":-144.8,"titleY":21.5}}}},
  {"data":{"name":"one"},"mark":{"type":"rule","color":"#8c8c8c","strokeWidth":1.5},"encoding":{"x":{"datum":0,"type":"quantitative","axis":null},"y":{"datum":0,"type":"quantitative"},"y2":{"datum":5}}}
 ]},
 {
  "width":1042.5,"height":208.3,
  "title":{"text":"Oxygen Saturation","dx":-155,"dy":89.2},
  "layer":[
   {"data":{"name":"spo2_levels"},"mark":{"type":"rule","color":"#9a9a9a","strokeDash":[2,2],"strokeWidth":1.2},"encoding":{"y":{"field":"v","type":"quantitative","scale":{"domain":[50,148.53],"nice":false,"zero":false},"axis":{"values":[50,100],"labelFontSize":20,"labelPadding":4.6,"labelBaseline":"middle","labelOffset":2,"ticks":false,"domain":false,"labelBound":false,"labelFlush":false,"labelOverlap":false,"title":"SpO2","titleFontSize":20,"titleAngle":0,"titleAlign":"left","titleBaseline":"middle","titleX":-148.9,"titleY":155.8}}}},
   {"data":{"name":"grid"},"mark":{"type":"rule","color":"#a8a8a8","strokeDash":[4,3],"strokeWidth":1},"encoding":{"x":{"field":"h","type":"quantitative","scale":{"domain":[0,10],"nice":false,"zero":false},"axis":null},"y":{"datum":50,"type":"quantitative"},"y2":{"datum":100}}},
   {"data":{"name":"one"},"mark":{"type":"rule","color":"#808080","strokeWidth":1.5},"encoding":{"x":{"datum":0,"type":"quantitative","axis":null},"y":{"datum":50,"type":"quantitative"},"y2":{"datum":100}}},
   {"data":{"name":"spo2"},"mark":{"type":"line","color":"#0000ff","strokeWidth":1},"encoding":{"x":{"field":"h","type":"quantitative","axis":null},"y":{"field":"v","type":"quantitative"},"detail":{"field":"seg","type":"nominal"}}}
  ]
 },
 {
  "width":1042.5,"height":202.3,
  "title":{"text":"Heart Rate","dx":-155,"dy":82.5},
  "layer":[
   {"data":{"name":"hr_levels"},"mark":{"type":"rule","color":"#9a9a9a","strokeDash":[2,2],"strokeWidth":1.2},"encoding":{"x":{"datum":0,"type":"quantitative","scale":{"domain":[-0.1,9.9],"nice":false,"zero":false},"axis":null},"x2":{"datum":10},"y":{"field":"v","type":"quantitative","scale":{"domain":[20,209.6],"nice":false,"zero":false},"axis":{"values":[20,120],"labelFontSize":20,"labelPadding":-4,"labelBaseline":"middle","labelOffset":1,"ticks":false,"domain":false,"labelBound":false,"labelFlush":false,"labelOverlap":false,"title":null}}}},
   {"data":{"name":"grid"},"mark":{"type":"rule","color":"#a8a8a8","strokeDash":[4,3],"strokeWidth":1},"encoding":{"x":{"field":"h","type":"quantitative","axis":null},"y":{"datum":20,"type":"quantitative"},"y2":{"datum":120}}},
   {"data":{"name":"hr"},"mark":{"type":"line","color":"#0000ff","strokeWidth":1.5},"encoding":{"x":{"field":"h","type":"quantitative","axis":null},"y":{"field":"v","type":"quantitative"}}}
  ]
 },
 {
  "width":1042.5,"height":144,
  "title":{"text":"PLM","dx":-155,"dy":90.1},
  "layer":[
   {"data":{"name":"grid"},"mark":{"type":"rule","color":"#a8a8a8","strokeDash":[4,3],"strokeWidth":1},"encoding":{"x":{"field":"h","type":"quantitative","scale":{"domain":[0,10],"nice":false,"zero":false},"axis":null},"y":{"datum":0,"type":"quantitative","scale":{"domain":[0,35.12],"nice":false,"zero":false},"axis":{"values":[10],"labelExpr":"'+10'","labelFontSize":20,"labelPadding":5.6,"labelBaseline":"middle","labelOffset":3,"ticks":false,"domain":false,"labelBound":false,"labelFlush":false,"labelOverlap":false,"title":null}},"y2":{"datum":10}}},
   {"data":{"name":"one"},"mark":{"type":"rule","color":"#808080","strokeWidth":1.5},"encoding":{"x":{"datum":0,"type":"quantitative","axis":null},"y":{"datum":0,"type":"quantitative"},"y2":{"datum":10}}},
   {"data":{"name":"one"},"mark":{"type":"rule","color":"#808080","strokeWidth":2.5},"encoding":{"y":{"datum":0,"type":"quantitative"}}}
  ]
 },
 {
  "width":1042.5,"height":125,
  "title":{"text":"Awakening","dx":-155,"dy":72.2},
  "layer":[
   {"data":{"name":"grid"},"mark":{"type":"rule","color":"#e3e3e3","strokeWidth":1},"encoding":{"x":{"field":"h","type":"quantitative","scale":{"domain":[0,10],"nice":false,"zero":false},"axis":null},"y":{"datum":0,"type":"quantitative","scale":{"domain":[0,2.717],"nice":false,"zero":false},"axis":null},"y2":{"datum":1}}},
   {"data":{"name":"one"},"mark":{"type":"rule","color":"#909090","strokeWidth":1.5},"encoding":{"x":{"datum":0,"type":"quantitative","axis":null},"y":{"datum":0.87,"type":"quantitative","axis":null},"y2":{"datum":0.98}}},
   {"data":{"name":"arousal"},"mark":{"type":"rule","color":"#2a2ae6","strokeWidth":1.4,"opacity":0.85},"encoding":{"x":{"field":"h","type":"quantitative","axis":null},"y":{"datum":0,"type":"quantitative","axis":null},"y2":{"datum":1}}}
  ]
 }
]
}
